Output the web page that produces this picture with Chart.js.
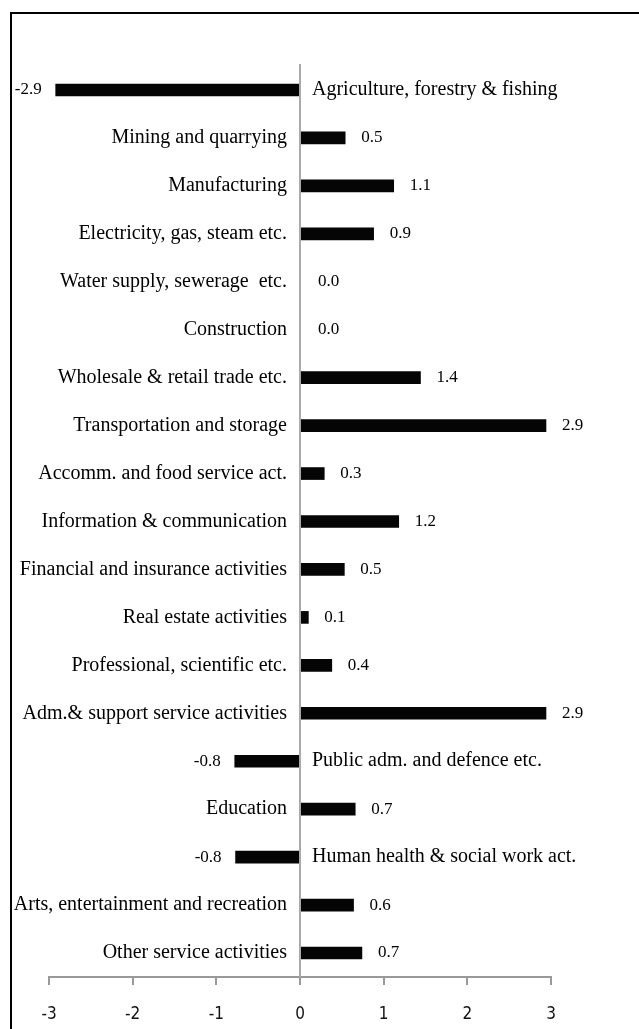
<!DOCTYPE html>
<html>
<head>
<meta charset="utf-8">
<script src="https://cdn.jsdelivr.net/npm/chart.js@4.4.0/dist/chart.umd.min.js"></script>
<style>
  html, body { margin: 0; padding: 0; background: #fff; }
  body { width: 639px; height: 1029px; position: relative; overflow: hidden; }
  #frame { position: absolute; left: 10px; top: 12px; width: 700px; height: 1100px; border: 2px solid #000; box-sizing: border-box; }
  #myChart { position: absolute; left: 0; top: 0; }
</style>
</head>
<body>
<div id="frame"></div>
<canvas id="myChart" width="639" height="1029"></canvas>
<script>
var categories = [
  'Agriculture, forestry & fishing',
  'Mining and quarrying',
  'Manufacturing',
  'Electricity, gas, steam etc.',
  'Water supply, sewerage  etc.',
  'Construction',
  'Wholesale & retail trade etc.',
  'Transportation and storage',
  'Accomm. and food service act.',
  'Information & communication',
  'Financial and insurance activities',
  'Real estate activities',
  'Professional, scientific etc.',
  'Adm.& support service activities',
  'Public adm. and defence etc.',
  'Education',
  'Human health & social work act.',
  'Arts, entertainment and recreation',
  'Other service activities'
];
var values = [-2.92, 0.54, 1.12, 0.88, 0.0, 0.0, 1.44, 2.94, 0.29, 1.18, 0.53, 0.1, 0.38, 2.94, -0.78, 0.66, -0.77, 0.64, 0.74];
var xTicks = [-3, -2, -1, 0, 1, 2, 3];

// draws the category names beside the zero line and the value labels beside the bars
const sideLabels = {
  id: 'sideLabels',
  afterDatasetsDraw(chart) {
    const ctx = chart.ctx;
    const area = chart.chartArea;
    const zeroX = chart.scales.x.getPixelForValue(0);
    ctx.save();
    ctx.strokeStyle = '#aaa';
    ctx.lineWidth = 2;
    ctx.beginPath();
    ctx.moveTo(zeroX, area.top - 2);
    ctx.lineTo(zeroX, area.bottom);
    ctx.stroke();
    ctx.fillStyle = '#000';
    ctx.textBaseline = 'middle';
    chart.getDatasetMeta(0).data.forEach(function(bar, i) {
      var v = values[i];
      var txt = v.toFixed(1);
      ctx.font = '20px "Liberation Serif", "Times New Roman", serif';
      if (v >= 0) {
        ctx.textAlign = 'right';
        ctx.fillText(categories[i], zeroX - 13, bar.y);
        ctx.font = '17px "Liberation Serif", "Times New Roman", serif';
        ctx.textAlign = 'left';
        ctx.fillText(txt, v == 0 ? zeroX + 18 : bar.x + 16, bar.y);
      } else {
        ctx.textAlign = 'left';
        ctx.fillText(categories[i], zeroX + 12, bar.y);
        ctx.font = '17px "Liberation Serif", "Times New Roman", serif';
        ctx.textAlign = 'right';
        ctx.fillText(txt, bar.x - 14, bar.y);
      }
    });
    ctx.restore();
  }
};

const config = {
  type: 'bar',
  data: {
    labels: categories,
    datasets: [{
      data: values,
      backgroundColor: '#050505',
      borderWidth: 0,
      barThickness: 12
    }]
  },
  options: {
    indexAxis: 'y',
    responsive: false,
    animation: false,
    layout: { padding: { left: 49, right: 88, top: 66, bottom: 2 } },
    plugins: { legend: { display: false }, tooltip: { enabled: false } },
    scales: {
      y: { display: false },
      x: {
        min: -3,
        max: 3,
        afterFit: function(scale) { scale.height = 50; },
        afterBuildTicks: function(scale) { scale.ticks = xTicks.map(function(v) { return { value: v }; }); },
        border: { color: '#999', width: 2 },
        grid: { drawOnChartArea: false, color: '#999', tickLength: 8, lineWidth: 2 },
        ticks: {
          padding: 19,
          color: '#111',
          font: { family: '"DejaVu Sans Condensed", "Arial Narrow", sans-serif', size: 17 }
        }
      }
    }
  },
  plugins: [sideLabels]
};

var ctx = document.getElementById('myChart').getContext('2d');
var barChart = new Chart(ctx, config);
</script>
</body>
</html>
